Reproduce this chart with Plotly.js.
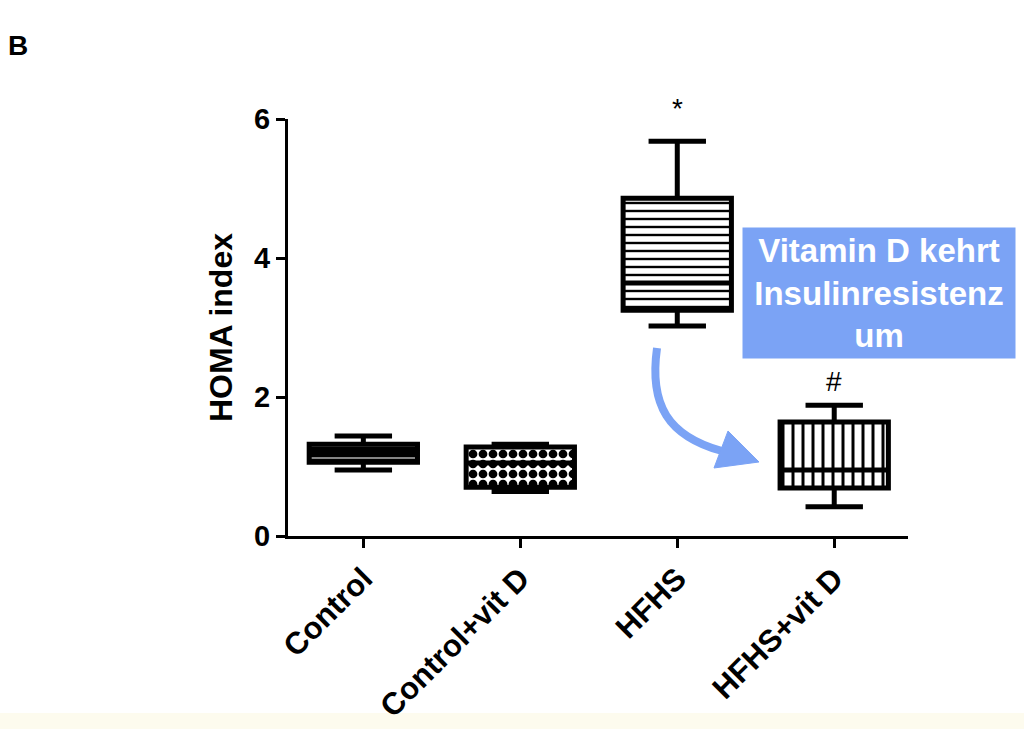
<!DOCTYPE html>
<html>
<head>
<meta charset="utf-8">
<script src="https://cdn.plot.ly/plotly-3.0.1.min.js"></script>
<style>html,body{margin:0;padding:0;background:#fff;}#chart{width:1024px;height:729px;}</style>
</head>
<body>
<div id="chart"></div>
<script>
// Data
const categories = ["Control", "Control+vit D", "HFHS", "HFHS+vit D"];
const lowerWhisker = [0.95, 0.64, 3.02, 0.42];
const q1Values = [1.06, 0.70, 3.25, 0.69];
const medianValues = [1.19, 1.05, 3.64, 0.95];
const q3Values = [1.32, 1.28, 4.86, 1.64];
const upperWhisker = [1.44, 1.32, 5.68, 1.88];
const yTicks = [0, 2, 4, 6];
const significanceGroups = ["HFHS", "HFHS+vit D"];
const significanceMarks = ["*", "#"];
const calloutText = "Vitamin D kehrt<br>Insulinresistenz<br>um";
const panelLabel = "B";
const yTitle = "HOMA index";

const patternShapes = ["-", ".", "-", "|"];
const patternSizes = [6, 10, 8, 10];
const patternSolidity = [0.22, 0.6, 0.3, 0.3];
const patternFg = ["#c8c8c8", "#000000", "#000000", "#000000"];
const patternBg = ["#000000", "#ffffff", "#ffffff", "#ffffff"];

const boldFont = {family: "Liberation Sans, Arial, sans-serif", weight: "bold", color: "#000"};
const blue = "#7ba3f5";

// Hatched fill of the boxes (interquartile range)
const fillTrace = {
  type: "bar",
  x: categories,
  y: q3Values.map((v, i) => v - q1Values[i]),
  base: q1Values,
  width: 0.69,
  marker: {
    color: "#ffffff",
    line: {width: 0},
    pattern: {
      shape: patternShapes,
      size: patternSizes,
      solidity: patternSolidity,
      fgcolor: patternFg,
      bgcolor: patternBg,
      fillmode: "replace"
    }
  },
  hoverinfo: "skip",
  showlegend: false
};

const boxTrace = {
  type: "box",
  x: categories,
  q1: q1Values,
  median: medianValues,
  q3: q3Values,
  lowerfence: lowerWhisker,
  upperfence: upperWhisker,
  width: 0.69,
  whiskerwidth: 0.53,
  fillcolor: "rgba(0,0,0,0)",
  line: {color: "#000", width: 5},
  boxpoints: false,
  showlegend: false
};

// pixel -> paper helpers for decorative overlays
const L = 288, R = 116, T = 119, B = 193, W = 1024, H = 729;
const pw = W - L - R, ph = H - T - B;
const px = x => (x - L) / pw;
const py = y => (H - B - y) / ph;
const P = (x, y) => px(x).toFixed(4) + "," + py(y).toFixed(4);

const annotations = significanceGroups.map((g, i) => {
  const idx = categories.indexOf(g);
  return {
    x: g, y: upperWhisker[idx], xref: "x", yref: "y",
    text: significanceMarks[i], showarrow: false,
    yshift: i === 0 ? 33 : 24,
    font: {family: "Liberation Sans, Arial, sans-serif", size: 28, color: "#000"},
    yanchor: "middle"
  };
});
annotations.push({
  xref: "paper", yref: "paper", x: px(879), y: py(293),
  xanchor: "center", yanchor: "middle",
  width: 272, height: 130, bgcolor: blue, borderpad: 0,
  text: calloutText, showarrow: false, align: "center",
  font: {family: "Liberation Sans, Arial, sans-serif", weight: "bold", size: 33, color: "#fff"}
});
annotations.push({
  xref: "paper", yref: "paper", x: px(6), y: py(45),
  xanchor: "left", yanchor: "middle",
  text: panelLabel, showarrow: false,
  font: Object.assign({}, boldFont, {size: 28})
});

const shapes = [
  {type: "rect", xref: "paper", yref: "paper", x0: px(0), x1: px(1024), y0: py(729), y1: py(713),
   fillcolor: "#fdfbee", line: {width: 0}, layer: "below"},
  {type: "path", xref: "paper", yref: "paper",
   path: "M" + P(657, 348) + " C" + P(649, 405) + " " + P(668, 436) + " " + P(722, 451),
   line: {color: blue, width: 8}},
  {type: "path", xref: "paper", yref: "paper",
   path: "M" + P(728, 431) + " L" + P(759, 462) + " L" + P(714, 468) + " Z",
   fillcolor: blue, line: {color: blue, width: 1}}
];

const layout = {
  width: W, height: H,
  margin: {l: L, r: R, t: T, b: B},
  paper_bgcolor: "#ffffff",
  plot_bgcolor: "#ffffff",
  showlegend: false,
  barmode: "overlay",
  xaxis: {
    type: "category",
    categoryorder: "array",
    categoryarray: categories,
    range: [-0.48, 3.47],
    showline: true, linewidth: 3, linecolor: "#000",
    ticks: "outside", ticklen: 9, tickwidth: 3, tickcolor: "#000",
    tickangle: -45,
    tickfont: Object.assign({}, boldFont, {size: 31}),
    showgrid: false, zeroline: false, automargin: false
  },
  yaxis: {
    range: [0, 6],
    tickvals: yTicks,
    showline: true, linewidth: 3, linecolor: "#000",
    ticks: "outside", ticklen: 9, tickwidth: 3, tickcolor: "#000",
    tickfont: Object.assign({}, boldFont, {size: 29}),
    showgrid: false, zeroline: false, automargin: false,
    title: {text: yTitle, font: Object.assign({}, boldFont, {size: 32}), standoff: 12}
  },
  annotations: annotations,
  shapes: shapes
};

Plotly.newPlot("chart", [fillTrace, boxTrace], layout, {displayModeBar: false, staticPlot: true});
</script>
</body>
</html>
